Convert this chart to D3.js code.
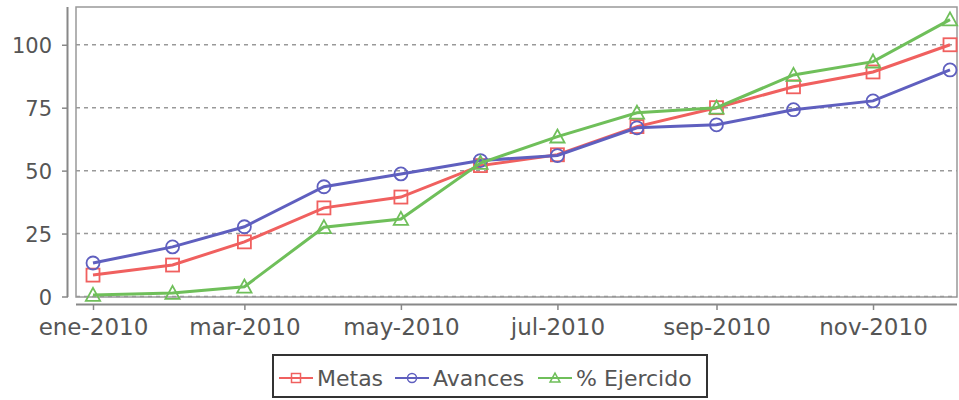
<!DOCTYPE html>
<html>
<head>
<meta charset="utf-8">
<script src="https://cdn.jsdelivr.net/npm/d3@7"></script>
<style>
  body { margin: 0; background: #fff; }
  text { font-family: "DejaVu Sans", sans-serif; }
</style>
</head>
<body>
<script>
const months = ["2010-01","2010-02","2010-03","2010-04","2010-05","2010-06",
                "2010-07","2010-08","2010-09","2010-10","2010-11","2010-12"];
const metas    = [8.5, 12.5, 21.7, 35.2, 39.5, 52, 56.3, 67.5, 75, 83.3, 89.2, 100];
const avances  = [13.3, 19.7, 27.7, 43.6, 48.7, 54, 56, 67, 68.2, 74.2, 77.7, 90];
const ejercido = [0.6, 1.4, 3.9, 27.5, 30.8, 53, 63.5, 73, 75, 88, 93.3, 110];
const yTicks = [0, 25, 50, 75, 100];
const mesAbr = ["ene","feb","mar","abr","may","jun","jul","ago","sep","oct","nov","dic"];

const series = [
  {name: "Metas", values: metas, color: "#f0605f", shape: "square"},
  {name: "Avances", values: avances, color: "#5f5fbf", shape: "circle"},
  {name: "% Ejercido", values: ejercido, color: "#6fbf5a", shape: "triangle"}
];

const W = 959, H = 400;
const parse = d3.timeParse("%Y-%m");
const dates = months.map(parse);

const svg = d3.select("body").append("svg").attr("width", W).attr("height", H);

// plot area
const px0 = 76, px1 = 957, py0 = 7, py1 = 297;

const x = d3.scaleTime().domain([dates[0], dates[11]]).range([93, 950]);
const y = d3.scaleLinear().domain([0, 115]).range([296.5, 7]);

// gridlines
svg.append("g").selectAll("line").data(yTicks).join("line")
  .attr("x1", px0).attr("x2", px1)
  .attr("y1", d => y(d)).attr("y2", d => y(d))
  .attr("stroke", "#999").attr("stroke-width", 1.5).attr("stroke-dasharray", "4,4");

// plot frame
svg.append("rect").attr("x", px0).attr("y", py0)
  .attr("width", px1 - px0).attr("height", py1 - py0)
  .attr("fill", "none").attr("stroke", "#999").attr("stroke-width", 1.5);

// y axis (offset left)
const yAxis = svg.append("g").attr("transform", "translate(68,0)")
  .call(d3.axisLeft(y).tickValues(yTicks).tickSize(6).tickPadding(10));
yAxis.select(".domain").attr("d", `M-0.5,${py0}V${py1}`).attr("stroke", "#888").attr("stroke-width", 2);
yAxis.selectAll(".tick line").attr("stroke", "#888").attr("stroke-width", 1.5);
yAxis.selectAll("text").attr("fill", "#555").style("font-size", "21px").attr("dy", "0.36em");

// x axis (offset below)
const xTickDates = dates.filter((d, i) => i % 2 === 0);
const xAxis = svg.append("g").attr("transform", "translate(0,304)")
  .call(d3.axisBottom(x).tickValues(xTickDates).tickSize(6).tickPadding(9)
    .tickFormat(d => mesAbr[d.getMonth()] + "-" + d.getFullYear()));
xAxis.select(".domain").attr("d", `M${px0},0.5H${px1}`).attr("stroke", "#888").attr("stroke-width", 2);
xAxis.selectAll(".tick line").attr("stroke", "#888").attr("stroke-width", 1.5);
xAxis.selectAll("text").attr("fill", "#555").style("font-size", "23px");

function drawMarker(g, shape, color, s, w) {
  if (shape === "square") {
    g.append("rect").attr("x", -s).attr("y", -s).attr("width", 2 * s).attr("height", 2 * s)
      .attr("fill", "none").attr("stroke", color).attr("stroke-width", w);
  } else if (shape === "circle") {
    g.append("circle").attr("r", s).attr("fill", "none").attr("stroke", color).attr("stroke-width", w);
  } else {
    g.append("path").attr("d", `M0,${-s * 1.1}L${s * 1.1},${s * 0.9}L${-s * 1.1},${s * 0.9}Z`)
      .attr("fill", "none").attr("stroke", color).attr("stroke-width", w);
  }
}

const line = d3.line().x((d, i) => x(dates[i])).y(d => y(d));

series.forEach(s => {
  const g = svg.append("g");
  g.append("path").datum(s.values).attr("d", line)
    .attr("fill", "none").attr("stroke", s.color).attr("stroke-width", 3);
  s.values.forEach((v, i) => {
    const m = g.append("g").attr("transform", `translate(${x(dates[i])},${y(v)})`);
    drawMarker(m, s.shape, s.color, 6.5, 1.8);
  });
});

// legend
const leg = svg.append("g");
leg.append("rect").attr("x", 273).attr("y", 355).attr("width", 434).attr("height", 42)
  .attr("fill", "#fff").attr("stroke", "#333").attr("stroke-width", 2);
const legX = [279, 395, 538];
series.forEach((s, i) => {
  const g = leg.append("g").attr("transform", `translate(${legX[i]},378)`);
  g.append("line").attr("x1", 0).attr("x2", 34).attr("stroke", s.color).attr("stroke-width", 2);
  const m = g.append("g").attr("transform", "translate(17,0)");
  drawMarker(m, s.shape, s.color, 4.5, 1.5);
  g.append("text").attr("x", 38).attr("dy", "0.36em").attr("fill", "#555")
    .style("font-size", "22px").text(s.name);
});
</script>
</body>
</html>
